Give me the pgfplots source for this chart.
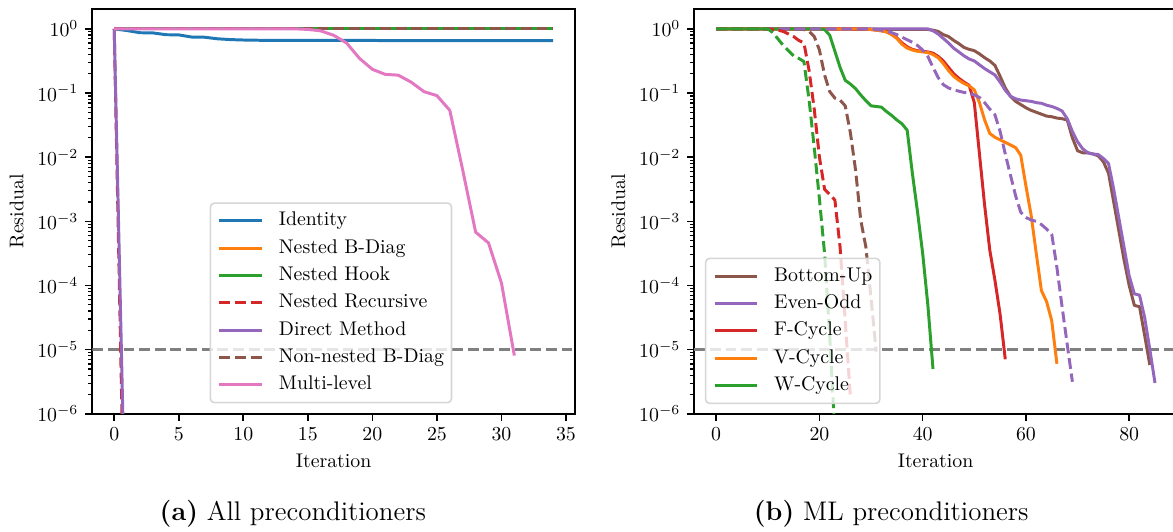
\documentclass[border=0pt]{standalone}
\usepackage{pgfplots}
\pgfplotsset{compat=1.18}
\definecolor{tblue}{HTML}{1F77B4}
\definecolor{torange}{HTML}{FF7F0E}
\definecolor{tgreen}{HTML}{2CA02C}
\definecolor{tred}{HTML}{D62728}
\definecolor{tpurple}{HTML}{9467BD}
\definecolor{tbrown}{HTML}{8C564B}
\definecolor{tpink}{HTML}{E377C2}
\definecolor{tgray}{HTML}{808080}
\definecolor{legframe}{HTML}{D6D6D6}
\tikzset{dsh/.style={dash pattern=on 5.5pt off 2.4pt}}
\pgfplotsset{
  legend image code/.code={\draw[#1] (0pt,0pt) -- (21.6pt,0pt);},
  every axis plot/.append style={line width=1.5pt, line join=round},
  every tick/.style={black, line width=0.8pt},
  minor tick style={black, line width=0.6pt},
  axis line style={line width=0.8pt},
  legend style={draw=legframe, line width=0.8pt, rounded corners=2pt,
      fill=white, fill opacity=0.8, text opacity=1,
      inner xsep=3.8pt, inner ysep=4.5pt, row sep=4.8pt, column sep=7.7pt,
      nodes={inner sep=0pt, text height=7pt, text depth=2pt}},
}
\begin{document}
\begin{tikzpicture}
% ---------------- (a) ----------------
\begin{axis}[at={(46.6pt,59.2pt)}, anchor=south west,
  scale only axis, width=243.8pt, height=204.4pt,
  ymode=log, ymin=1e-6, ymax=2.03,
  ytick={1e-6,1e-5,1e-4,1e-3,1e-2,1e-1,1},
  xlabel={Iteration}, ylabel={Residual},
  tick align=outside, xtick pos=bottom, ytick pos=left,
  major tick length=3.5pt, minor tick length=2pt,
  legend cell align=left,
  xmin=-1.7, xmax=35.7, xtick={0,5,...,35},
  legend style={at={(0.7458,0.0257)}, anchor=south east}]
\addplot[forget plot, tgray, line width=1.2pt, dsh] coordinates {(-1.7,1e-5) (35.7,1e-5)};
\addplot[tblue] coordinates {(0,1) (1,0.94) (2,0.87) (3,0.865) (4,0.81) (5,0.805) (6,0.745) (7,0.74) (8,0.70) (9,0.68) (10,0.67) (11,0.665) (12,0.66) (13,0.66) (14,0.66) (15,0.66) (16,0.66) (17,0.66) (18,0.66) (19,0.66) (20,0.66) (21,0.655) (22,0.655) (23,0.655) (24,0.655) (25,0.655) (26,0.655) (27,0.655) (28,0.655) (29,0.655) (30,0.655) (31,0.655) (32,0.655) (33,0.655) (34,0.655)};
\addlegendentry{Identity}
\addplot[torange] coordinates {(0,1) (5,1) (10,1) (15,1) (20,1) (25,1) (30,1) (34,1)};
\addlegendentry{Nested B-Diag}
\addplot[tgreen] coordinates {(0,1) (5,1) (10,1) (15,1) (20,1) (25,1) (30,1) (34,1)};
\addlegendentry{Nested Hook}
\addplot[tred, dsh] coordinates {(0,1) (1,1e-10)};
\addlegendentry{Nested Recursive}
\addplot[tpurple] coordinates {(0,1) (1,1e-9)};
\addlegendentry{Direct Method}
\addplot[tbrown, dsh] coordinates {(0,1) (5,1) (10,1) (15,1) (20,1) (25,1) (30,1) (34,1)};
\addlegendentry{Non-nested B-Diag}
\addplot[tpink] coordinates {(0,1) (1,1) (2,1) (3,1) (4,1) (5,1) (6,1) (7,1) (8,1) (9,1) (10,1) (11,1) (12,1) (13,1) (14,1) (15,0.98) (16,0.93) (17,0.794) (18,0.603) (19,0.347) (20,0.234) (21,0.195) (22,0.19) (23,0.148) (24,0.105) (25,0.091) (26,0.0537) (27,0.0063) (28,6.8e-4) (29,4.6e-4) (30,1.1e-4) (31,8.1e-6)};
\addlegendentry{Multi-level}
\end{axis}
% ---------------- (b) ----------------
\begin{axis}[at={(350.6pt,59.2pt)}, anchor=south west,
  scale only axis, width=243.8pt, height=204.4pt,
  ymode=log, ymin=1e-6, ymax=2.03,
  ytick={1e-6,1e-5,1e-4,1e-3,1e-2,1e-1,1},
  xlabel={Iteration}, ylabel={Residual},
  tick align=outside, xtick pos=bottom, ytick pos=left,
  major tick length=3.5pt, minor tick length=2pt,
  legend cell align=left,
  xmin=-4.25, xmax=89.25, xtick={0,20,40,60,80},
  legend style={at={(0.0221,0.024)}, anchor=south west}]
\addplot[forget plot, tgray, line width=1.2pt, dsh] coordinates {(-4.25,1e-5) (89.25,1e-5)};
% Bottom-Up
\addplot[tbrown] coordinates {(0,1) (41,0.977) (42,0.955) (43,0.912) (44,0.813) (45,0.759) (46,0.661) (47,0.589) (48,0.513) (49,0.479) (50,0.457) (51,0.407) (52,0.355) (53,0.316) (54,0.269) (55,0.182) (56,0.120) (57,0.0891) (58,0.0741) (59,0.0661) (60,0.0589) (61,0.0537) (62,0.0501) (63,0.0468) (64,0.0437) (65,0.0427) (66,0.0407) (67,0.0398) (68,0.038) (69,0.02) (70,0.0126) (71,0.0117) (72,0.0117) (73,0.0112) (74,0.0105) (75,0.00851) (76,0.00562) (77,0.002) (78,7.08e-4) (79,2.51e-4) (80,1e-4) (81,4.9e-5) (82,4.68e-5) (83,1.66e-5) (84,5.75e-6)};
\addlegendentry{Bottom-Up}
% Even-Odd
\addplot[tpurple] coordinates {(0,1) (41,1) (42,0.933) (43,0.832) (44,0.708) (45,0.603) (46,0.501) (47,0.437) (48,0.380) (49,0.339) (50,0.316) (51,0.275) (52,0.240) (53,0.214) (54,0.191) (55,0.148) (56,0.110) (57,0.0891) (58,0.0813) (59,0.0776) (60,0.0759) (61,0.0741) (62,0.0708) (63,0.0692) (64,0.0646) (65,0.0617) (66,0.0575) (67,0.0525) (68,0.0398) (69,0.0251) (70,0.0174) (71,0.0135) (72,0.0117) (73,0.0112) (74,0.0110) (75,0.00955) (76,0.00794) (77,0.00316) (78,0.00112) (79,3.98e-4) (80,1.41e-4) (81,7.41e-5) (82,7.08e-5) (83,3.16e-5) (84,1e-5) (85,3.02e-6)};
\addlegendentry{Even-Odd}
% F-Cycle
\addplot[tred] coordinates {(0,1) (28,1) (29,0.99) (30,0.977) (31,0.955) (32,0.933) (33,0.902) (34,0.832) (35,0.724) (36,0.603) (37,0.525) (38,0.479) (39,0.457) (40,0.447) (41,0.437) (42,0.417) (43,0.372) (44,0.316) (45,0.251) (46,0.2) (47,0.170) (48,0.148) (49,0.132) (50,0.0708) (51,0.0112) (52,0.00178) (53,3.55e-4) (54,1.2e-4) (55,3.55e-5) (56,7.08e-6)};
\addlegendentry{F-Cycle}
% V-Cycle
\addplot[torange] coordinates {(0,1) (28,1) (29,0.99) (30,0.977) (31,0.955) (32,0.933) (33,0.891) (34,0.813) (35,0.708) (36,0.575) (37,0.501) (38,0.468) (39,0.447) (40,0.437) (41,0.427) (42,0.398) (43,0.355) (44,0.288) (45,0.224) (46,0.182) (47,0.158) (48,0.141) (49,0.129) (50,0.112) (51,0.0708) (52,0.038) (53,0.0234) (54,0.0204) (55,0.0186) (56,0.017) (57,0.0155) (58,0.0141) (59,0.0107) (60,0.00355) (61,0.00126) (62,3.16e-4) (63,8.32e-5) (64,5.62e-5) (65,2.82e-5) (66,6.03e-6)};
\addlegendentry{V-Cycle}
% W-Cycle
\addplot[tgreen] coordinates {(0,1) (20,1) (21,0.977) (22,0.794) (23,0.447) (24,0.251) (25,0.158) (26,0.138) (27,0.117) (28,0.0933) (29,0.0759) (30,0.0631) (31,0.0617) (32,0.0603) (33,0.0513) (34,0.0447) (35,0.038) (36,0.0331) (37,0.0263) (38,0.00562) (39,0.00141) (40,3.16e-4) (41,5e-5) (42,5e-6)};
\addlegendentry{W-Cycle}
% dashed variants
\addplot[forget plot, tbrown, dsh] coordinates {(0,1) (16,1) (17,0.977) (18,0.912) (19,0.759) (20,0.468) (21,0.191) (22,0.105) (23,0.0832) (24,0.0776) (25,0.0631) (26,0.024) (27,0.00631) (28,0.00105) (29,3.98e-4) (30,6.31e-5) (31,9.33e-6)};
\addplot[forget plot, tpurple, dsh] coordinates {(0,1) (30,1) (31,0.977) (32,0.955) (33,0.912) (34,0.871) (35,0.813) (36,0.741) (37,0.676) (38,0.617) (39,0.550) (40,0.468) (41,0.372) (42,0.251) (43,0.174) (44,0.135) (45,0.120) (46,0.112) (47,0.107) (48,0.102) (49,0.1) (50,0.0933) (51,0.0851) (52,0.0708) (53,0.0562) (54,0.0457) (55,0.0251) (56,0.0112) (57,0.00525) (58,0.00251) (59,0.00138) (60,0.00115) (61,0.00105) (62,0.001) (63,8.91e-4) (64,7.59e-4) (65,6.31e-4) (66,1.91e-4) (67,4.68e-5) (68,1.2e-5) (69,3.16e-6)};
\addplot[forget plot, tred, dsh] coordinates {(0,1) (10,1) (11,0.977) (12,0.955) (13,0.912) (14,0.832) (15,0.759) (16,0.661) (17,0.603) (18,0.224) (19,0.0562) (20,0.01) (21,0.00316) (22,0.00263) (23,0.00214) (24,3.98e-4) (25,2.82e-5) (26,1.82e-6)};
\addplot[forget plot, tgreen, dsh] coordinates {(0,1) (10,1) (11,0.871) (12,0.692) (13,0.550) (14,0.457) (15,0.380) (16,0.347) (17,0.309) (18,0.0776) (19,0.0141) (20,0.00224) (21,3.16e-4) (22,1.58e-5) (23,5e-7)};
\end{axis}
\node[anchor=center, inner sep=0pt, font=\fontsize{13.6pt}{16pt}\selectfont] at (147.9pt,8.9pt) {\textbf{(a)} All preconditioners};
\node[anchor=center, inner sep=0pt, font=\fontsize{13.6pt}{16pt}\selectfont] at (450.1pt,8.9pt) {\textbf{(b)} ML preconditioners};
\pgfresetboundingbox
\path[use as bounding box] (0pt,0pt) rectangle (592.4pt,268.2pt);
\end{tikzpicture}
\end{document}
